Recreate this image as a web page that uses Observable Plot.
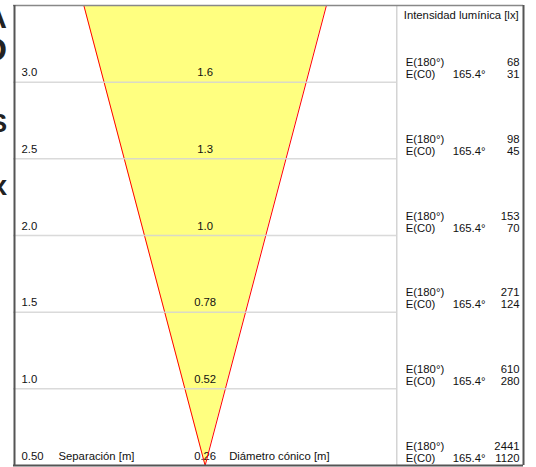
<!DOCTYPE html>
<html><head><meta charset="utf-8">
<script src="https://cdn.jsdelivr.net/npm/d3@7"></script>
<script src="https://cdn.jsdelivr.net/npm/@observablehq/plot@0.6"></script>
<style>
body{margin:0;background:#fff;overflow:hidden;}
#wrap{position:relative;width:536px;height:467px;overflow:hidden;}
.frag{position:absolute;font-family:"Liberation Sans",Arial,sans-serif;font-weight:bold;color:#222;white-space:nowrap;line-height:0.75;}
#chart{position:absolute;left:0;top:0;}
</style></head><body>
<div id="wrap"><div id="chart"></div></div>
<script>
// ---- data ----
const separations = [0.5, 1.0, 1.5, 2.0, 2.5, 3.0];
const separationLabels = ["0.50", "1.0", "1.5", "2.0", "2.5", "3.0"];
const diameterLabels = ["0.26", "0.52", "0.78", "1.0", "1.3", "1.6"];
const e180 = [2441, 610, 271, 153, 98, 68];
const eC0 = [1120, 280, 124, 70, 45, 31];
const c0Angle = "165.4°";
const fragmentLetters = ["A", "D", "S", "x"];

// ---- cropped heading fragments at the left edge ----
const fragStyle = [
  {size: 30, top: 7.4}, {size: 34, top: 36.5}, {size: 26, top: 114.2}, {size: 28, top: 174.8}
];
const wrap = document.getElementById("wrap");
fragmentLetters.forEach((t, i) => {
  const d = document.createElement("div");
  d.className = "frag";
  d.textContent = t;
  d.style.fontSize = fragStyle[i].size + "px";
  d.style.top = fragStyle[i].top + "px";
  d.style.right = (536 - 7) + "px";
  wrap.appendChild(d);
});

// ---- geometry ----
const xMin = -1.264, xMax = 2.1, panelEdge = 1.264;
const yBottom = 0.5, yTop = 3.5;
const beamHalfTan = 0.8 / 3;
const topHalf = beamHalfTan * (yTop - yBottom);

const rows = separations.map((s, i) => ({
  s, sep: separationLabels[i], dia: diameterLabels[i],
  e180: String(e180[i]), ec0: String(eC0[i])
}));
const coneArea = [{y: yBottom, x1: 0, x2: 0}, {y: yTop, x1: -topHalf, x2: topHalf}];
const coneEdges = [{x2: -topHalf}, {x2: topHalf}];

const ink = "#111";
const chart = Plot.plot({
  width: 536, height: 467,
  marginLeft: 13, marginRight: 13, marginTop: 5, marginBottom: 2,
  x: {domain: [xMin, xMax], axis: null},
  y: {domain: [yBottom, yTop], axis: null},
  style: {fontFamily: "'Liberation Sans', Arial, sans-serif", fontSize: "11.3px", background: "#fff", overflow: "visible"},
  marks: [
    Plot.areaX(coneArea, {y: "y", x1: "x1", x2: "x2", fill: "#ffff80"}),
    Plot.text(rows, {x: xMin, y: "s", text: "sep", dx: 8, dy: -9.5, textAnchor: "start", fill: ink}),
    Plot.text(rows, {x: 0, y: "s", text: "dia", dy: -9.5, fill: ink}),
    Plot.text(["Separación [m]"], {x: xMin, y: yBottom, text: d => d, dx: 45, dy: -9.5, textAnchor: "start", fill: ink}),
    Plot.text(["Diámetro cónico [m]"], {x: 0, y: yBottom, text: d => d, dx: 24, dy: -9.5, textAnchor: "start", fill: ink}),
    Plot.link(coneEdges, {x1: 0, y1: yBottom, x2: "x2", y2: yTop, stroke: "#ff0000", strokeWidth: 1}),
    Plot.ruleY(separations.slice(1), {x1: xMin, x2: panelEdge, stroke: "#d4d4d4", strokeOpacity: 0.85, strokeWidth: 1.5}),
    Plot.ruleX([panelEdge], {stroke: "#d4d4d4", strokeWidth: 1.5}),
    Plot.text(["Intensidad lumínica [lx]"], {x: panelEdge, y: yTop, text: d => d, dx: 7, dy: 9.5, textAnchor: "start", fill: ink}),
    Plot.text(rows, {x: panelEdge, y: "s", text: () => "E(180°)", dx: 9, dy: -19.5, textAnchor: "start", fill: ink}),
    Plot.text(rows, {x: panelEdge, y: "s", text: () => "E(C0)", dx: 9, dy: -7.5, textAnchor: "start", fill: ink}),
    Plot.text(rows, {x: panelEdge, y: "s", text: () => c0Angle, dx: 56, dy: -7.5, textAnchor: "start", fill: ink}),
    Plot.text(rows, {x: xMax, y: "s", text: "e180", dx: -4, dy: -19.5, textAnchor: "end", fill: ink}),
    Plot.text(rows, {x: xMax, y: "s", text: "ec0", dx: -4, dy: -7.5, textAnchor: "end", fill: ink}),
    Plot.ruleY([yTop], {stroke: "#888", strokeWidth: 1.5}),
    Plot.ruleY([yBottom], {stroke: "#555", strokeWidth: 2}),
    Plot.ruleX([xMin], {stroke: "#555", strokeWidth: 2, dx: 1}),
    Plot.ruleX([xMax], {stroke: "#555", strokeWidth: 2, dx: 0})
  ]
});
document.getElementById("chart").appendChild(chart);
</script>
</body></html>
